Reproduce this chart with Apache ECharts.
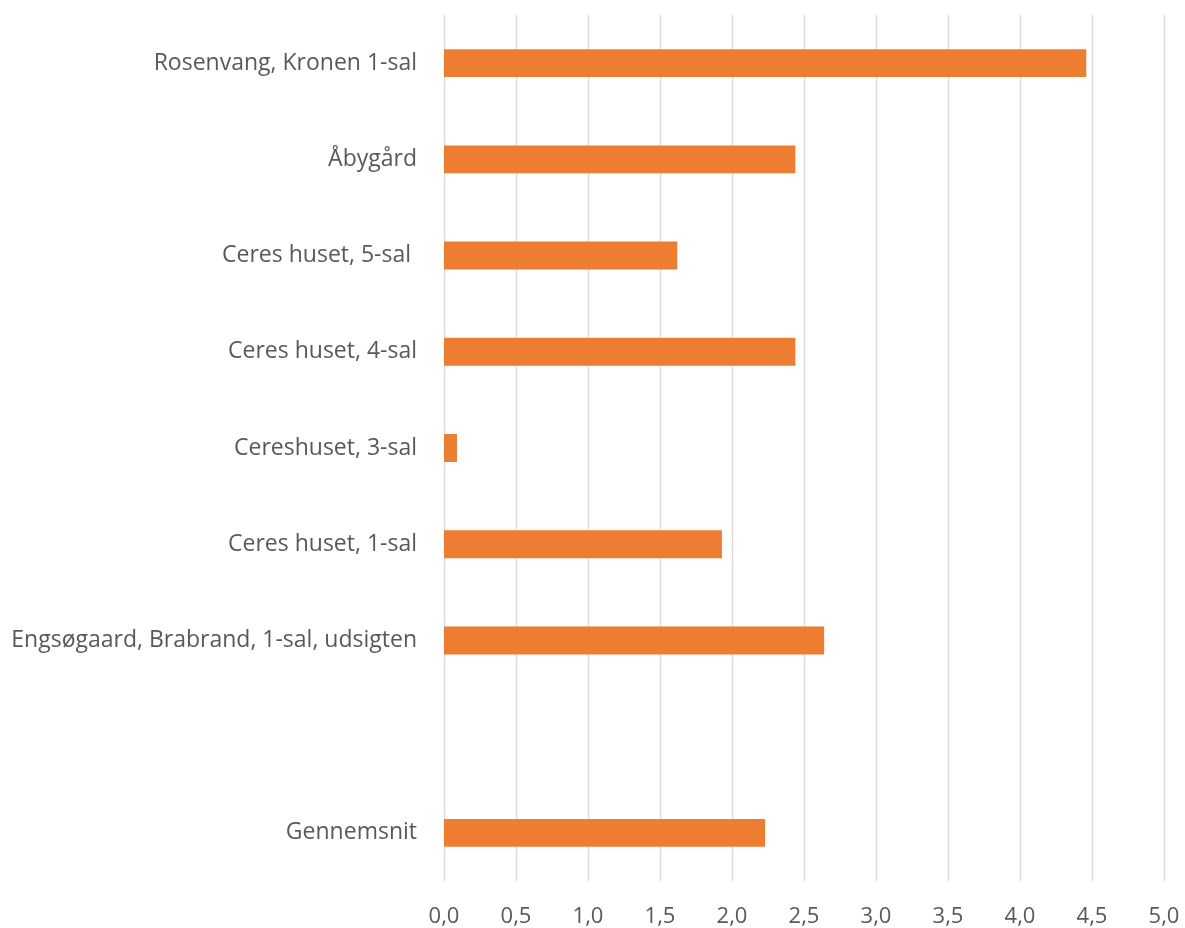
<!DOCTYPE html>
<html><head><meta charset="utf-8">
<script src="https://cdn.jsdelivr.net/npm/echarts@6/dist/echarts.min.js"></script>
<style>html,body{margin:0;padding:0;background:#fff}#c{width:1185px;height:928px}</style>
</head><body><div id="c"></div>
<script>
const categories = ["Rosenvang, Kronen 1-sal","Åbygård","Ceres huset, 5-sal ","Ceres huset, 4-sal","Cereshuset, 3-sal","Ceres huset, 1-sal","Engsøgaard, Brabrand, 1-sal, udsigten","","Gennemsnit"];
const values = [4.46, 2.44, 1.62, 2.44, 0.09, 1.93, 2.64, null, 2.23];
const xTicks = [0, 5, 0.5];
const chart = echarts.init(document.getElementById('c'));
chart.setOption({
  animation:false,
  grid:{left:444,right:21,top:15,bottom:46,containLabel:false},
  xAxis:{type:'value',min:xTicks[0],max:xTicks[1],interval:xTicks[2],
    axisLine:{show:false},axisTick:{show:false},
    splitLine:{show:true,lineStyle:{color:'#d9d9d9',width:1.3}},
    axisLabel:{margin:25,color:'#595959',fontSize:22,fontFamily:'Open Sans',
      formatter:v=>v.toFixed(1).replace('.',',')}},
  yAxis:{type:'category',inverse:true,data:categories,
    axisLine:{show:false},axisTick:{show:false},
    axisLabel:{margin:27,color:'#595959',fontSize:23,fontFamily:'Open Sans'}},
  series:[{type:'bar',data:values,barWidth:'29%',itemStyle:{color:'#ed7d31'}}]
});
</script></body></html>
